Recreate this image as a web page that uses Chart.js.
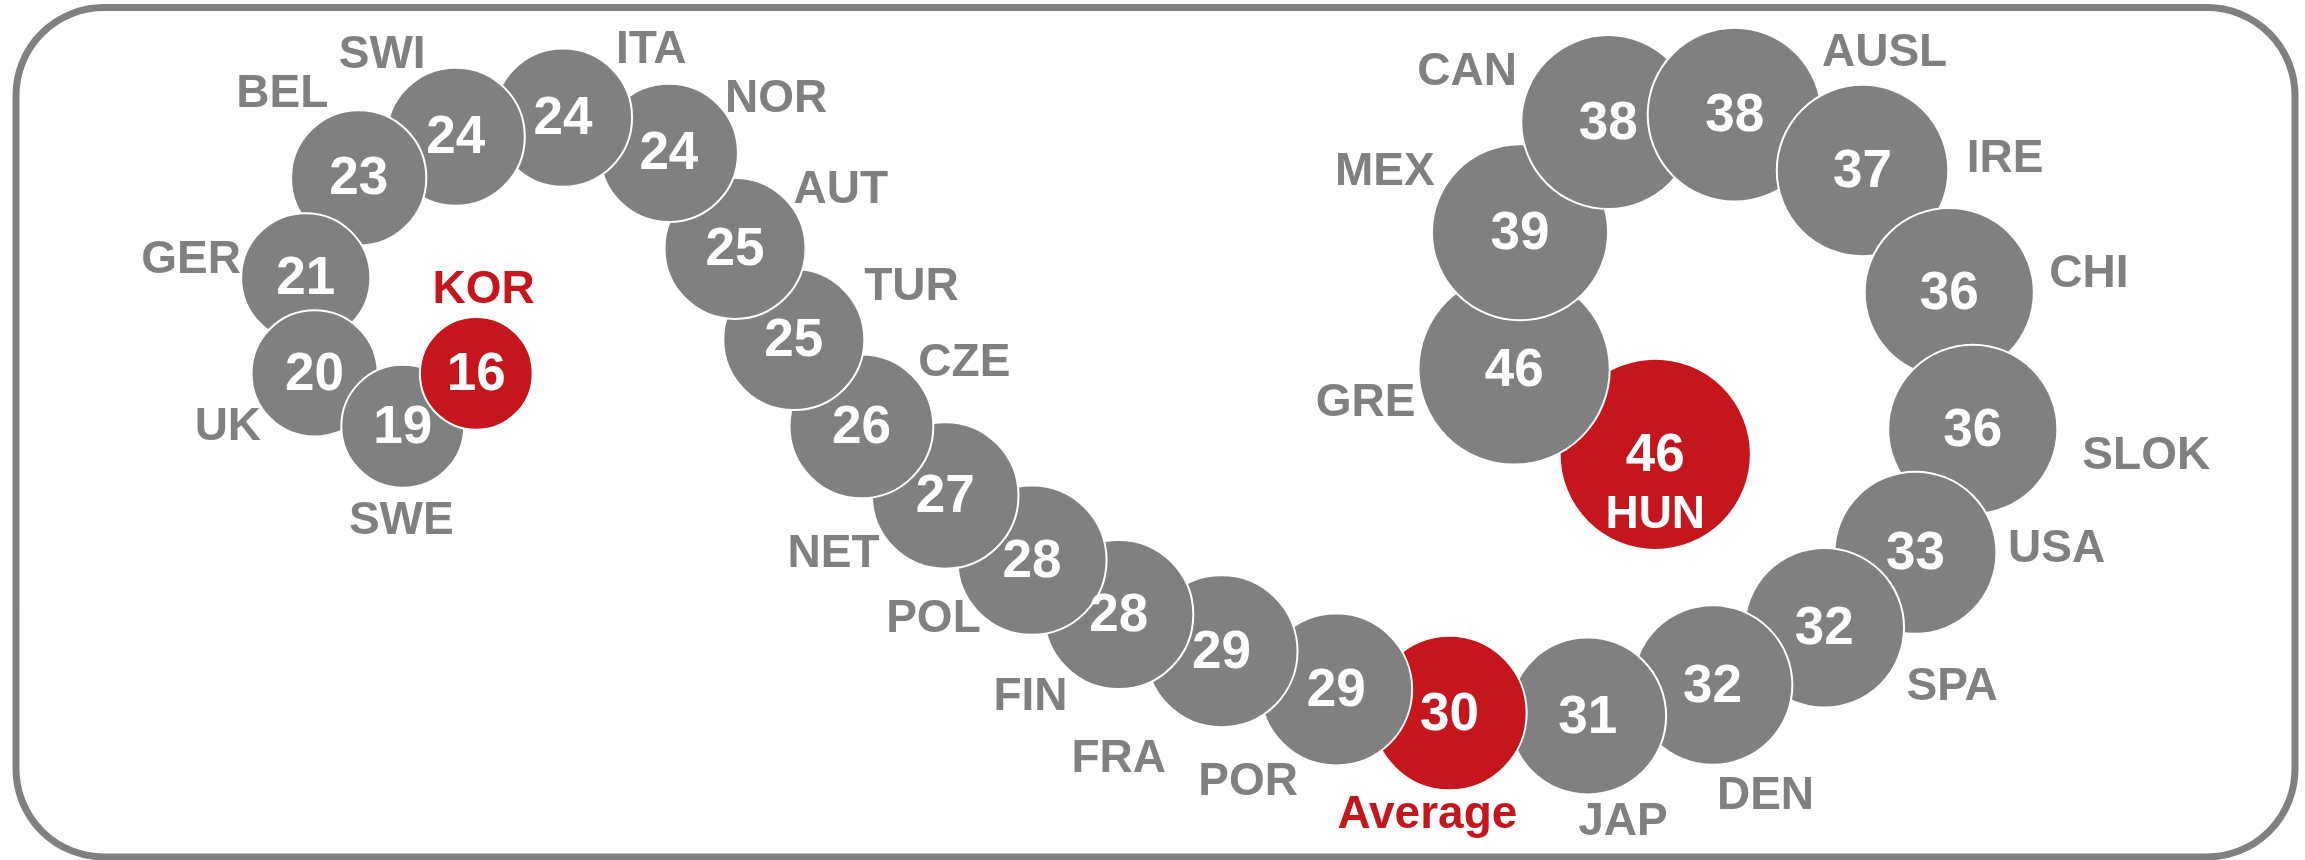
<!DOCTYPE html>
<html>
<head>
<meta charset="utf-8">
<title>Spiral bubbles</title>
<script src="https://cdn.jsdelivr.net/npm/chart.js@4/dist/chart.umd.min.js"></script>
<style>
  html, body { margin: 0; padding: 0; background: #fff; }
  #wrap { width: 2305px; height: 860px; }
</style>
</head>
<body>
<div id="wrap"><canvas id="chart" width="2305" height="860"></canvas></div>
<script>
// spiral order, largest first (later bubbles sit on top)
const countries = ['HUN', 'GRE', 'MEX', 'CAN', 'AUSL', 'IRE', 'CHI', 'SLOK', 'USA', 'SPA', 'DEN', 'JAP', 'Average',
  'POR', 'FRA', 'FIN', 'POL', 'NET', 'CZE', 'TUR', 'AUT', 'NOR', 'ITA', 'SWI', 'BEL', 'GER', 'UK', 'SWE', 'KOR'];
const values = [46, 46, 39, 38, 38, 37, 36, 36, 33, 32, 32, 31, 30,
  29, 29, 28, 28, 27, 26, 25, 25, 24, 24, 24, 23, 21, 20, 19, 16];
// layout coordinates of each bubble on the spiral
const xPos = [1126, 1030, 1034, 1094, 1180, 1267, 1326, 1342, 1303, 1241, 1165, 1080, 986,
  909, 831, 761, 702, 643, 586, 540, 500, 455, 383, 310, 244, 208, 214, 274, 324];
const yPos = [309, 251, 158, 83, 78, 116, 199, 292, 376, 427, 466, 487, 485,
  469, 443, 418, 381, 337, 290, 231, 169, 104, 80, 93, 121, 189, 254, 290, 254];
const highlighted = ['HUN', 'Average', 'KOR'];

// where each country name sits relative to its bubble
const labelOffsets = [[0, 40], [-101, 22], [-92, -42], [-96, -35], [102, -43], [97, -9], [95, -14], [118, 17], [96, -4],
  [87, 39], [36, 74], [24, 71], [-15, 68], [-60, 62], [-70, 72], [-60, 55], [-67, 39], [-76, 39], [70, -44],
  [80, -37], [72, -41], [73, -38], [60, -47], [-50, -57], [-52, -58], [-78, -13], [-59, 35], [-1, 63], [5, -58]];

const GRAY = '#808080';
const RED = '#c4161c';

const frame = {
  id: 'frame',
  beforeDraw(chart) {
    const ctx = chart.ctx;
    ctx.save();
    ctx.strokeStyle = GRAY;
    ctx.lineWidth = 7;
    ctx.beginPath();
    ctx.roundRect(16, 7.5, 2279, 849.5, 88);
    ctx.stroke();
    ctx.restore();
  }
};

const labels = {
  id: 'labels',
  afterDatasetsDraw(chart) {
    const ctx = chart.ctx;
    const xs = chart.scales.x, ys = chart.scales.y;
    ctx.save();
    ctx.textAlign = 'center';
    ctx.textBaseline = 'middle';
    countries.forEach((c, i) => {
      const cx = xs.getPixelForValue(xPos[i]);
      const cy = ys.getPixelForValue(yPos[i]);
      ctx.fillStyle = '#fff';
      ctx.font = 'bold 53px "Liberation Sans", Arial, sans-serif';
      ctx.fillText(String(values[i]), cx, cy + 2);
      const lx = xs.getPixelForValue(xPos[i] + labelOffsets[i][0]);
      const ly = ys.getPixelForValue(yPos[i] + labelOffsets[i][1]);
      ctx.font = 'bold 46px "Liberation Sans", Arial, sans-serif';
      ctx.fillStyle = c === 'HUN' ? '#fff' : (highlighted.includes(c) ? RED : GRAY);
      ctx.fillText(c, lx, ly + 2);
    });
    ctx.restore();
  }
};

new Chart(document.getElementById('chart'), {
  type: 'bubble',
  data: {
    datasets: [{
      data: countries.map((c, i) => ({ x: xPos[i], y: yPos[i], r: 14.1 * Math.sqrt(values[i]) })),
      backgroundColor: countries.map(c => highlighted.includes(c) ? RED : GRAY),
      borderColor: '#ffffff',
      borderWidth: 2,
      hoverBorderWidth: 2
    }]
  },
  options: {
    responsive: false,
    animation: false,
    layout: { padding: 0, autoPadding: false },
    plugins: { legend: { display: false }, tooltip: { enabled: false } },
    scales: {
      x: { type: 'linear', min: 0, max: 1568, display: false },
      y: { type: 'linear', min: 0, max: 585, reverse: true, display: false }
    }
  },
  plugins: [frame, labels]
});
</script>
</body>
</html>
